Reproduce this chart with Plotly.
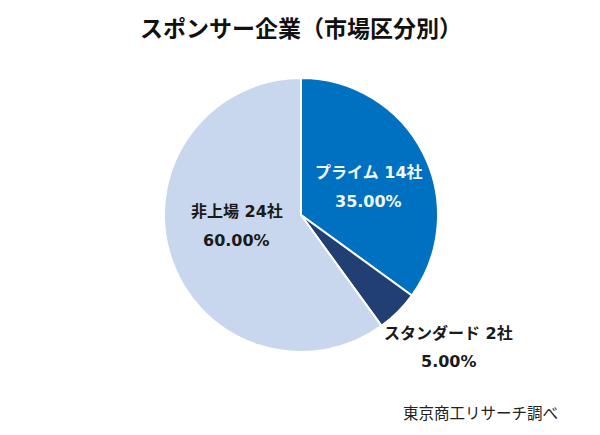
import plotly.graph_objects as go

# スポンサー企業の市場区分別内訳
segments = ["プライム", "スタンダード", "非上場"]
companies = [14, 2, 24]
shares = [35.00, 5.00, 60.00]
slice_colors = ["#0070C0", "#213F72", "#C8D7EE"]

title_text = "スポンサー企業（市場区分別）"
source_text = "東京商工リサーチ調べ"

JP_FONT = "Noto Sans CJK JP"
LABEL_FONT = "DejaVu Sans, Noto Sans CJK JP"

fig = go.Figure()

fig.add_trace(
    go.Pie(
        labels=segments,
        values=companies,
        sort=False,
        direction="clockwise",
        rotation=0,
        marker=dict(colors=slice_colors, line=dict(color="white", width=2)),
        textinfo="none",
        hoverinfo="label+value+percent",
        showlegend=False,
    )
)

# label centres in paper coords (plot area = the pie's square) and colours
label_pos = [(0.748, 0.602), (1.040, 0.016), (0.266, 0.460)]
label_colors = ["#F2F7FC", "#1A1A1A", "#1A1A1A"]
line_gap = 0.052  # half the distance between the two label lines

for name, n, pct, (x, y), col in zip(segments, companies, shares, label_pos, label_colors):
    for txt, dy in ((f"{name} {n}社", line_gap), (f"{pct:.2f}%", -line_gap)):
        fig.add_annotation(
            x=x, y=y + dy, xref="paper", yref="paper",
            xanchor="center", yanchor="middle",
            text=f"<b>{txt}</b>",
            showarrow=False,
            font=dict(family=LABEL_FONT, size=16, color=col),
        )

fig.add_annotation(
    x=0.5, y=1.186, xref="paper", yref="paper",
    xanchor="center", yanchor="middle",
    text=f"<b>{title_text}</b>",
    showarrow=False,
    font=dict(family=JP_FONT, size=23, color="#111111"),
)

fig.add_annotation(
    x=1.445, y=-0.219, xref="paper", yref="paper",
    xanchor="right", yanchor="middle",
    text=source_text,
    showarrow=False,
    font=dict(family=JP_FONT, size=15.5, color="#222222"),
)

# the page body adds 8px, so the figure is drawn 8px smaller and shifted back
fig.update_layout(
    width=592,
    height=427,
    margin=dict(l=156, r=162, t=70, b=83),
    paper_bgcolor="white",
    plot_bgcolor="white",
)

fig.write_html("out.html")
